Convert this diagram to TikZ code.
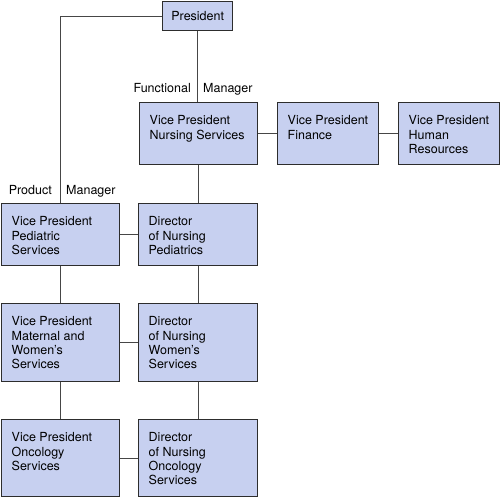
\documentclass[tikz,border=0pt]{standalone}
\usepackage{fontspec}
\setmainfont{TeX Gyre Heros}
\definecolor{boxfill}{RGB}{199,208,240}
\definecolor{boxline}{RGB}{45,45,45}
\definecolor{linkgray}{RGB}{70,70,70}
\newcommand{\boxlines}[3]{\parbox[t][#2][t]{#1}{#3}}

\begin{document}
\begin{tikzpicture}[x=1pt,y=-1pt,
  font=\fontsize{12.5}{14.2}\selectfont,
  orgbox/.style={draw=boxline,fill=boxfill,line width=1.4pt,anchor=north west,
    inner xsep=10pt,inner ysep=13pt},
  link/.style={draw=linkgray,line width=1.2pt},
  tag/.style={inner sep=0pt}]
\useasboundingbox (0,0) rectangle (500,497);

\node[draw=boxline,fill=boxfill,line width=1.4pt,anchor=north west,
  minimum width=70pt,minimum height=29pt] (pres) at (162,1) {President};

% functional line
\node[orgbox] (vpn) at (139,102) {\boxlines{98pt}{36pt}{Vice President\\Nursing Services}};
\node[orgbox] (vpf) at (277,102) {\boxlines{81pt}{36pt}{Vice President\\Finance}};
\node[orgbox] (vph) at (398,102) {\boxlines{81pt}{36pt}{Vice President\\Human\\Resources}};
\node[orgbox] (dnp) at (138,203) {\boxlines{99pt}{36pt}{Director\\of Nursing\\Pediatrics}};
\node[orgbox] (dnw) at (138,303) {\boxlines{99pt}{52pt}{Director\\of Nursing\\Women's\\Services}};
\node[orgbox] (dno) at (138,419) {\boxlines{99pt}{51pt}{Director\\of Nursing\\Oncology\\Services}};

% product line
\node[orgbox] (vpp) at (1,203) {\boxlines{98pt}{36pt}{Vice President\\Pediatric\\Services}};
\node[orgbox] (vpm) at (1,303) {\boxlines{98pt}{52pt}{Vice President\\Maternal and\\Women's\\Services}};
\node[orgbox] (vpo) at (1,419) {\boxlines{98pt}{51pt}{Vice President\\Oncology\\Services}};

\node[tag,anchor=base east] (fnc) at (191,93) {Functional};
\node[tag,anchor=base west] (fmgr) at (203,93) {Manager};
\node[tag,anchor=base east] (prd) at (52,194) {Product};
\node[tag,anchor=base west] (pmgr) at (66,194) {Manager};

\draw[link] (pres.west) -| (vpp.north);
\foreach \a/\b in {pres/vpn,vpn/dnp,dnp/dnw,dnw/dno,vpp/vpm,vpm/vpo}
{\draw[link] (\a.south) -- (\a.south |- \b.north);}
\foreach \a/\b in {vpn/vpf,vpf/vph,vpp/dnp,vpm/dnw,vpo/dno}
{\draw[link] (\a.east) -- (\b.west);}

\end{tikzpicture}
\end{document}
